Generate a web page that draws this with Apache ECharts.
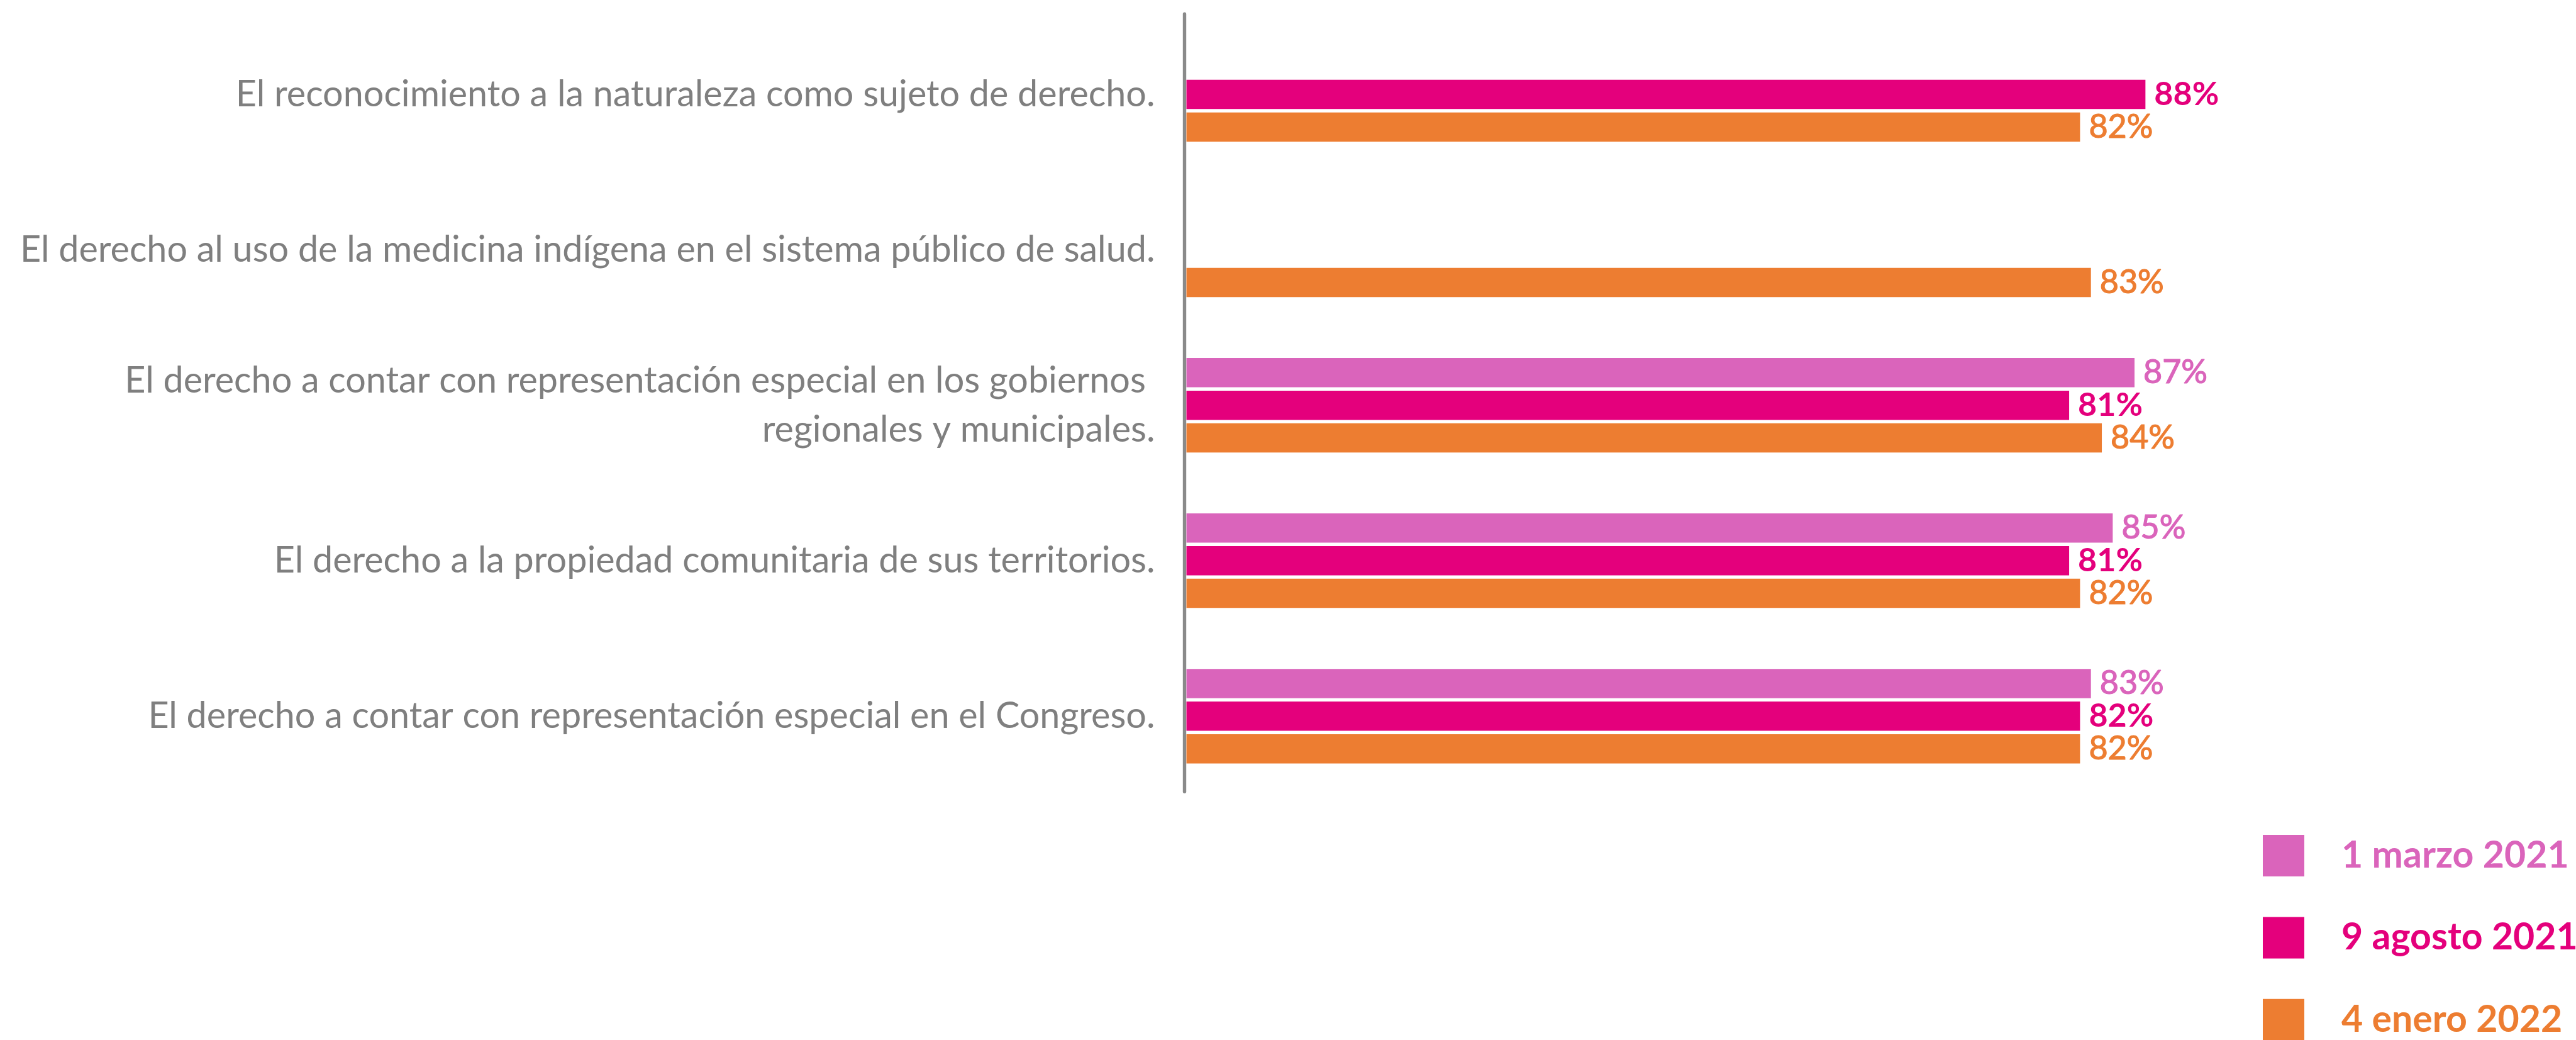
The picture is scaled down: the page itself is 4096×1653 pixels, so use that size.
<!DOCTYPE html>
<html>
<head>
<meta charset="utf-8">
<script src="https://cdn.jsdelivr.net/npm/echarts@6/dist/echarts.min.js"></script>
<style>
  html, body { margin: 0; padding: 0; background: #fff; }
  #main { width: 4096px; height: 1653px; }
</style>
</head>
<body>
<div id="main"></div>
<script>
// datos
var categorias = [
    'El reconocimiento a la naturaleza como sujeto de derecho.',
    'El derecho al uso de la medicina indígena en el sistema público de salud.',
    'El derecho a contar con representación especial en los gobiernos \nregionales y municipales.',
    'El derecho a la propiedad comunitaria de sus territorios.',
    'El derecho a contar con representación especial en el Congreso.'
];
var marzo2021 = [null, null, 87, 85, 83];
var agosto2021 = [88, null, 81, 81, 82];
var enero2022 = [82, 83, 84, 82, 82];
var nombres = ['1 marzo 2021', '9 agosto 2021', '4 enero 2022'];
var colores = ['#DA64BB', '#E4007C', '#ED7D31'];

var chartDom = document.getElementById('main');
var myChart = echarts.init(chartDom);
var option;

function serie(nombre, datos, color, peso, borde) {
    return {
        name: nombre,
        type: 'bar',
        data: datos,
        barWidth: 46.5,
        barGap: '11.6%',
        itemStyle: { color: color },
        label: {
            show: true,
            position: 'right',
            distance: 14,
            formatter: '{c}%',
            color: color,
            fontFamily: 'Lato',
            fontWeight: peso,
            fontSize: 52,
            textBorderColor: color,
            textBorderWidth: borde
        }
    };
}

// una leyenda por serie (la ultima queda pegada al borde inferior)
function leyenda(i) {
    return {
        orient: 'vertical',
        left: 3598,
        top: 1327 + i * 130.4,
        padding: 0,
        itemWidth: 66,
        itemHeight: 66,
        icon: 'rect',
        data: [{ name: nombres[i], textStyle: { color: colores[i] } }],
        textStyle: {
            fontFamily: 'Lato',
            fontWeight: 'bold',
            fontSize: 59,
            padding: [0, 0, 0, 54]
        }
    };
}

option = {
    backgroundColor: '#fff',
    animation: false,
    grid: [
        { left: 1886.5, right: 476.7, top: 26.5, bottom: 391.2 },
        { left: 1883.6, right: 476.7, top: 22.2, bottom: 394.7 }
    ],
    legend: [leyenda(0), leyenda(1), leyenda(2)],
    xAxis: [
        { type: 'value', gridIndex: 0, min: 0, max: 100, show: false },
        { type: 'value', gridIndex: 1, min: 0, max: 100, show: false }
    ],
    yAxis: [
        {
            type: 'category',
            gridIndex: 0,
            inverse: true,
            data: categorias,
            axisLine: { show: false },
            axisTick: { show: false },
            axisLabel: {
                margin: 50,
                fontFamily: 'Lato',
                fontSize: 57.5,
                lineHeight: 78,
                color: '#7f7f7f',
                align: 'right'
            }
        },
        {
            // solo la linea vertical del eje
            type: 'category',
            gridIndex: 1,
            data: categorias,
            axisLine: { show: true, lineStyle: { color: '#8a8a8a', width: 5.4 } },
            axisTick: { show: false },
            axisLabel: { show: false }
        }
    ],
    series: [
        serie(nombres[0], marzo2021, colores[0], 'normal', 1.2),
        serie(nombres[1], agosto2021, colores[1], 'bold', 0),
        serie(nombres[2], enero2022, colores[2], 'normal', 1.2)
    ]
};

option && myChart.setOption(option);
</script>
</body>
</html>
